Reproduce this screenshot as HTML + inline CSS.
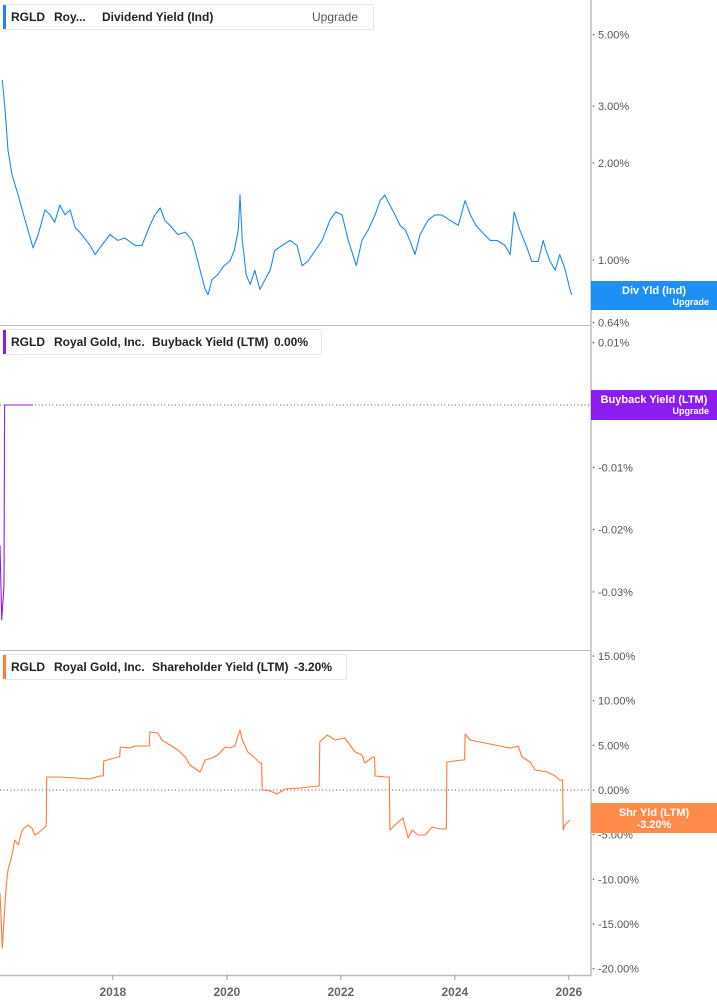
<!DOCTYPE html>
<html><head><meta charset="utf-8">
<style>
body{margin:0;background:#fff;font-family:"Liberation Sans",sans-serif;}
svg{display:block}
</style></head>
<body>
<svg id="chart" width="717" height="1005" xmlns="http://www.w3.org/2000/svg"></svg>
<script>
// ---- data ----
const divDates=[2016.06,2016.11,2016.16,2016.23,2016.34,2016.41,2016.51,2016.60,2016.69,2016.81,2016.90,2016.98,2017.07,2017.16,2017.25,2017.34,2017.42,2017.60,2017.69,2017.77,2017.95,2018.09,2018.21,2018.39,2018.51,2018.65,2018.74,2018.83,2018.91,2019.00,2019.14,2019.27,2019.39,2019.46,2019.53,2019.62,2019.67,2019.74,2019.84,2019.95,2020.05,2020.13,2020.20,2020.23,2020.27,2020.34,2020.41,2020.49,2020.58,2020.67,2020.76,2020.84,2020.97,2021.11,2021.23,2021.32,2021.42,2021.55,2021.67,2021.81,2021.91,2022.02,2022.13,2022.27,2022.37,2022.48,2022.60,2022.69,2022.77,2022.86,2022.95,2023.04,2023.13,2023.21,2023.30,2023.39,2023.53,2023.65,2023.77,2023.91,2024.06,2024.18,2024.27,2024.37,2024.48,2024.62,2024.74,2024.88,2024.97,2025.04,2025.14,2025.25,2025.35,2025.46,2025.55,2025.60,2025.67,2025.76,2025.84,2025.93,2026.02,2026.05];
const divValues=[3.62,2.92,2.19,1.84,1.59,1.43,1.24,1.09,1.20,1.43,1.38,1.31,1.48,1.38,1.43,1.26,1.22,1.11,1.04,1.09,1.20,1.15,1.17,1.11,1.11,1.28,1.38,1.45,1.33,1.28,1.20,1.22,1.15,1.04,0.93,0.81,0.78,0.87,0.90,0.96,0.99,1.07,1.24,1.59,1.15,0.90,0.84,0.93,0.81,0.87,0.93,1.07,1.11,1.15,1.11,0.96,0.99,1.07,1.15,1.33,1.41,1.38,1.15,0.96,1.15,1.24,1.38,1.53,1.59,1.48,1.38,1.28,1.24,1.15,1.04,1.20,1.33,1.38,1.38,1.33,1.28,1.53,1.38,1.28,1.22,1.15,1.15,1.11,1.04,1.41,1.24,1.11,0.99,0.99,1.15,1.07,0.99,0.93,1.04,0.94,0.81,0.78];
const bbDates=[2016.02,2016.05,2016.09,2016.10,2016.60];
const bbValues=[-0.0225,-0.0345,-0.029,0,0];
const shDates=[2016.02,2016.06,2016.09,2016.13,2016.16,2016.23,2016.28,2016.34,2016.41,2016.51,2016.58,2016.63,2016.69,2016.83,2016.84,2017.07,2017.34,2017.60,2017.77,2017.83,2017.84,2018.09,2018.12,2018.13,2018.30,2018.39,2018.64,2018.65,2018.79,2018.86,2019.00,2019.14,2019.27,2019.35,2019.53,2019.62,2019.74,2019.84,2019.97,2020.05,2020.14,2020.23,2020.27,2020.37,2020.49,2020.58,2020.61,2020.62,2020.76,2020.88,2021.02,2021.28,2021.60,2021.62,2021.63,2021.76,2021.90,2022.07,2022.25,2022.37,2022.42,2022.56,2022.59,2022.60,2022.77,2022.85,2022.86,2022.95,2023.09,2023.18,2023.25,2023.35,2023.48,2023.60,2023.74,2023.83,2023.85,2023.86,2024.13,2024.17,2024.18,2024.27,2024.44,2024.70,2024.97,2025.11,2025.18,2025.32,2025.41,2025.62,2025.76,2025.84,2025.89,2025.90,2025.93,2026.02];
const shValues=[-11.53,-17.69,-14.56,-10.64,-8.96,-7.28,-5.60,-6.16,-4.48,-3.92,-4.26,-5.04,-4.82,-4.03,1.46,1.46,1.34,1.23,1.57,1.57,3.25,3.70,3.70,4.82,4.70,4.93,4.93,6.50,6.38,5.60,5.04,4.48,3.70,2.80,2.02,3.36,3.58,3.92,4.82,4.70,4.93,6.72,5.60,4.26,3.58,3.02,3.02,0,-0.11,-0.45,0.11,0.22,0.45,0.45,5.38,6.16,5.60,5.82,4.26,3.92,3.02,3.70,3.70,1.57,1.46,1.46,-4.48,-3.92,-3.14,-5.38,-4.48,-5.04,-5.04,-4.14,-4.37,-4.37,-4.37,3.14,3.36,3.36,6.27,5.60,5.38,5.04,4.70,4.93,3.70,3.14,2.24,2.02,1.57,1.12,1.12,-4.48,-3.92,-3.36];
const yearTicks=[2018,2020,2022,2024,2026];
const divTicks=[5,3,2,1,0.83,0.64];
const bbTicks=[0.01,0,-0.01,-0.02,-0.03];
const shTicks=[15,10,5,0,-5,-10,-15,-20];

// ---- scales ----
const X=d=>(d-2016.02)*57;
const Y1=v=>260-140*Math.log(v);
const Y2=v=>405-v*6230;
const Y3=v=>790-v*8.93;
const NS="http://www.w3.org/2000/svg";
const svg=document.getElementById('chart');
function mk(tag,attrs,parent){const e=document.createElementNS(NS,tag);for(const k in attrs)e.setAttribute(k,attrs[k]);(parent||svg).appendChild(e);return e;}
function txt(s,attrs){const e=mk('text',attrs);e.textContent=s;return e;}

// frame
let e;
e=mk('line',{x1:591,y1:0,x2:591,y2:976,stroke:'#999','stroke-width':1});


e=mk('line',{x1:0,y1:325.5,x2:591,y2:325.5,stroke:'#bbb','stroke-width':1});


e=mk('line',{x1:0,y1:650.5,x2:591,y2:650.5,stroke:'#bbb','stroke-width':1});


e=mk('line',{x1:0,y1:975.5,x2:591,y2:975.5,stroke:'#bbb','stroke-width':1.5});



yearTicks.forEach(y=>{
  const l=mk('line',{x1:X(y),y1:975,x2:X(y),y2:980,stroke:'#999'});
  
  
  const t=txt(String(y),{x:X(y),y:996,'text-anchor':'middle','font-size':12,'font-weight':'bold',fill:'#666'});
  
  
});

function yticks(ticks,fy,fmt){
  ticks.forEach(v=>{
    const yy=fy(v);
    const d=mk('circle',{cx:593.5,cy:yy,r:0.8,fill:'#666'});
    
    
    const t=txt(fmt(v),{x:598,y:yy+4,'font-size':11,fill:'#555'});
    
    
  });
}
yticks(divTicks,Y1,v=>v.toFixed(2)+'%');
yticks(bbTicks,Y2,v=>v.toFixed(2)+'%');
yticks(shTicks,Y3,v=>v.toFixed(2)+'%');

// zero lines
[[Y2(0)],[Y3(0)]].forEach(([yy])=>{
  const l=mk('line',{x1:0,y1:yy,x2:591,y2:yy,stroke:'#555','stroke-dasharray':'1,2.5','stroke-width':1});
  
  
});

function series(dates,vals,fy,color,name){
  const p=dates.map((d,i)=>(i?'L':'M')+X(d).toFixed(1)+','+fy(vals[i]).toFixed(1)).join('');
  const s=mk('path',{d:p,fill:'none',stroke:color,'stroke-width':1.1,'stroke-linejoin':'round'});
  
  
}
series(divDates,divValues,Y1,'#1e88f0','dividend-yield-line');
series(bbDates,bbValues,Y2,'#8b1cf0','buyback-yield-line');
series(shDates,shValues,Y3,'#ff7a3c','shareholder-yield-line');

// badges
function badge(y,h,color,l1,l2,name,small){
  const g=mk('g',{});
  
  
  mk('rect',{x:591,y:y,width:126,height:h,fill:color},g);
  const a=mk('text',{x:654,y:y+13,'text-anchor':'middle','font-size':11,'font-weight':'bold',fill:'#fff'},g);a.textContent=l1;
  const b=mk('text',small?{x:709,y:y+24,'text-anchor':'end','font-size':9,'font-weight':'bold',fill:'#fff'}:{x:654,y:y+25,'text-anchor':'middle','font-size':11,'font-weight':'bold',fill:'#fff'},g);b.textContent=l2;
}
badge(281,29,'#1e90f5','Div Yld (Ind)','Upgrade','div-yield-badge',true);
badge(390,30,'#8c1df0','Buyback Yield (LTM)','Upgrade','buyback-yield-badge',true);
badge(803,30,'#ff8a4a','Shr Yld (LTM)','-3.20%','shareholder-yield-badge',false);

// legends
function legend(y,w,color,parts,name){
  const g=mk('g',{});
  
  
  mk('rect',{x:3.5,y:y+0.5,width:w,height:25,rx:2,fill:'#fff',stroke:'#e6e6e6'},g);
  mk('rect',{x:3,y:y+1,width:3,height:24,fill:color},g);
  parts.forEach(([s,x,wt,fill])=>{const t=mk('text',{x:x,y:y+17,'font-size':12,'font-weight':wt,fill:fill||'#222'},g);t.textContent=s;});
}
legend(4,370,'#1e88f0',[['RGLD',11,'bold'],['Roy...',54,'bold'],['Dividend Yield (Ind)',102,'bold'],['Upgrade',312,'normal','#555']],'dividend-legend');
legend(329,318,'#8b1cf0',[['RGLD',11,'bold'],['Royal Gold, Inc.',54,'bold'],['Buyback Yield (LTM)',152,'bold'],['0.00%',274,'bold']],'buyback-legend');
legend(654,343,'#ff7a3c',[['RGLD',11,'bold'],['Royal Gold, Inc.',54,'bold'],['Shareholder Yield (LTM)',152,'bold'],['-3.20%',294,'bold']],'shareholder-legend');
</script>
</body></html>
